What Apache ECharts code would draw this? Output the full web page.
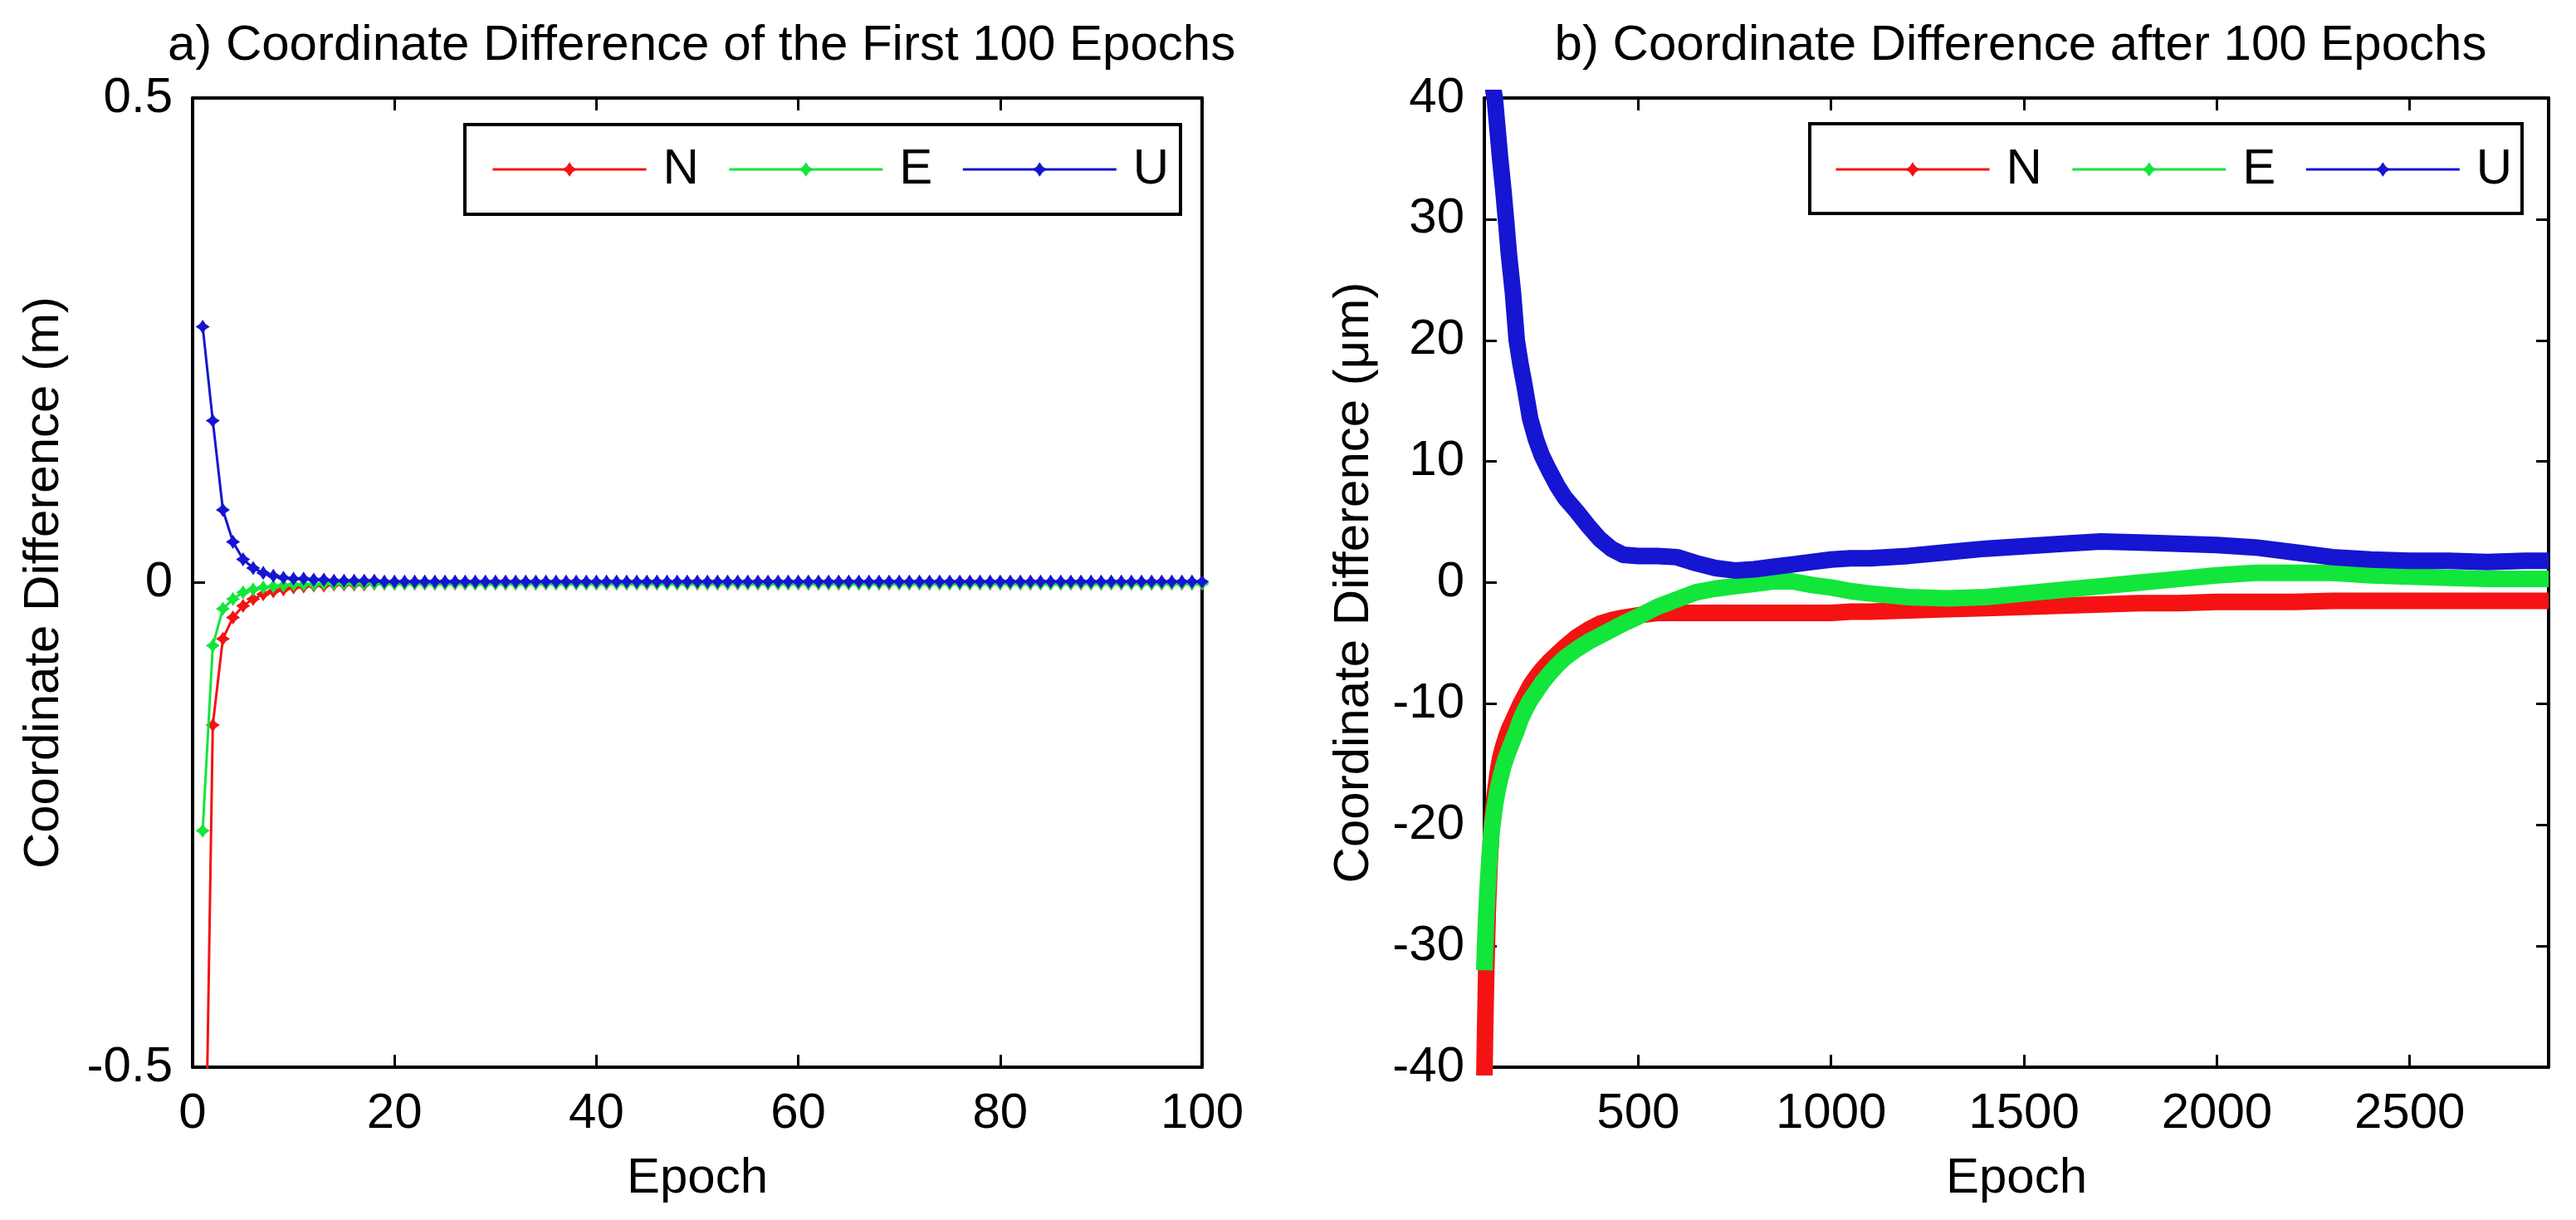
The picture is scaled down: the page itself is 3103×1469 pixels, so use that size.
<!DOCTYPE html>
<html>
<head>
<meta charset="utf-8">
<title>Coordinate Difference</title>
<script src="https://cdn.jsdelivr.net/npm/echarts@6/dist/echarts.min.js"></script>
<style>
  html, body { margin: 0; padding: 0; background: #fff; }
  #main { width: 3103px; height: 1469px; }
</style>
</head>
<body>
<div id="main"></div>
<script>
// a) first 100 epochs, metres
var epochsA = [
  1, 2, 3, 4, 5, 6, 7, 8, 9, 10,
  11, 12, 13, 14, 15, 16, 17, 18, 19, 20,
  21, 22, 23, 24, 25, 26, 27, 28, 29, 30,
  31, 32, 33, 34, 35, 36, 37, 38, 39, 40,
  41, 42, 43, 44, 45, 46, 47, 48, 49, 50,
  51, 52, 53, 54, 55, 56, 57, 58, 59, 60,
  61, 62, 63, 64, 65, 66, 67, 68, 69, 70,
  71, 72, 73, 74, 75, 76, 77, 78, 79, 80,
  81, 82, 83, 84, 85, 86, 87, 88, 89, 90,
  91, 92, 93, 94, 95, 96, 97, 98, 99, 100
];
var nA = [
  -0.80, -0.147, -0.058, -0.036, -0.024, -0.017, -0.012, -0.009, -0.007, -0.005,
  -0.004, -0.003, -0.003, -0.002, -0.002, -0.002, -0.002, -0.001, -0.001, -0.001,
  -0.001, -0.001, -0.001, -0.001, -0.001, -0.001, -0.001, -0.001, -0.001, -0.001,
  -0.001, -0.001, -0.001, -0.001, -0.001, -0.001, -0.001, -0.001, -0.001, -0.001,
  -0.001, -0.001, -0.001, -0.001, -0.001, -0.001, -0.001, -0.001, -0.001, -0.001,
  -0.001, -0.001, -0.001, -0.001, -0.001, -0.001, -0.001, -0.001, -0.001, -0.001,
  -0.001, -0.001, -0.001, -0.001, -0.001, -0.001, -0.001, -0.001, -0.001, -0.001,
  -0.001, -0.001, -0.001, -0.001, -0.001, -0.001, -0.001, -0.001, -0.001, -0.001,
  -0.001, -0.001, -0.001, -0.001, -0.001, -0.001, -0.001, -0.001, -0.001, -0.001,
  -0.001, -0.001, -0.001, -0.001, -0.001, -0.001, -0.001, -0.001, -0.001, -0.001
];
var eA = [
  -0.256, -0.065, -0.027, -0.017, -0.010, -0.007, -0.005, -0.004, -0.003, -0.002,
  -0.002, -0.002, -0.001, -0.001, -0.001, -0.001, -0.001, -0.001, -0.001, -0.001,
  -0.001, -0.001, -0.001, -0.001, -0.001, -0.001, -0.001, -0.001, -0.001, -0.001,
  -0.001, -0.001, -0.001, -0.001, -0.001, -0.001, -0.001, -0.001, -0.001, -0.001,
  -0.001, -0.001, -0.001, -0.001, -0.001, -0.001, -0.001, -0.001, -0.001, -0.001,
  -0.001, -0.001, -0.001, -0.001, -0.001, -0.001, -0.001, -0.001, -0.001, -0.001,
  -0.001, -0.001, -0.001, -0.001, -0.001, -0.001, -0.001, -0.001, -0.001, -0.001,
  -0.001, -0.001, -0.001, -0.001, -0.001, -0.001, -0.001, -0.001, -0.001, -0.001,
  -0.001, -0.001, -0.001, -0.001, -0.001, -0.001, -0.001, -0.001, -0.001, -0.001,
  -0.001, -0.001, -0.001, -0.001, -0.001, -0.001, -0.001, -0.001, -0.001, -0.001
];
var uA = [
  0.264, 0.167, 0.075, 0.042, 0.024, 0.015, 0.010, 0.007, 0.005, 0.004,
  0.004, 0.003, 0.003, 0.002, 0.002, 0.002, 0.002, 0.002, 0.001, 0.001,
  0.001, 0.001, 0.001, 0.001, 0.001, 0.001, 0.001, 0.001, 0.001, 0.001,
  0.001, 0.001, 0.001, 0.001, 0.001, 0.001, 0.001, 0.001, 0.001, 0.001,
  0.001, 0.001, 0.001, 0.001, 0.001, 0.001, 0.001, 0.001, 0.001, 0.001,
  0.001, 0.001, 0.001, 0.001, 0.001, 0.001, 0.001, 0.001, 0.001, 0.001,
  0.001, 0.001, 0.001, 0.001, 0.001, 0.001, 0.001, 0.001, 0.001, 0.001,
  0.001, 0.001, 0.001, 0.001, 0.001, 0.001, 0.001, 0.001, 0.001, 0.001,
  0.001, 0.001, 0.001, 0.001, 0.001, 0.001, 0.001, 0.001, 0.001, 0.001,
  0.001, 0.001, 0.001, 0.001, 0.001, 0.001, 0.001, 0.001, 0.001, 0.001
];

// b) after 100 epochs, micrometres
var epochsB = [
  101, 103, 106, 110, 115, 120, 128, 135, 142, 150, 157, 165,
  175, 185, 195, 205, 220, 235, 250, 270, 290, 310, 340, 370,
  400, 430, 460, 500, 550, 600, 650, 700, 750, 800, 850, 900,
  950, 1000, 1050, 1100, 1200, 1300, 1400, 1500, 1600, 1700, 1800, 1900,
  2000, 2100, 2200, 2300, 2400, 2500, 2600, 2700, 2800, 2860
];
var nB = [
  -41, -37, -32, -27, -23, -20, -17.5, -15.8, -14.5, -13.5, -12.8, -12.1,
  -11.4, -10.7, -10.0, -9.4, -8.5, -7.8, -7.2, -6.5, -5.9, -5.3, -4.5, -3.9,
  -3.4, -3.1, -2.9, -2.7, -2.5, -2.5, -2.5, -2.5, -2.5, -2.5, -2.5, -2.5,
  -2.5, -2.5, -2.4, -2.4, -2.3, -2.2, -2.1, -2.0, -1.9, -1.8, -1.7, -1.7,
  -1.6, -1.6, -1.6, -1.5, -1.5, -1.5, -1.5, -1.5, -1.5, -1.5
];
var eB = [
  -32, -30, -27.5, -25, -22.5, -20.5, -18.5, -17.2, -16.2, -15.2, -14.5, -13.8,
  -13.0, -12.2, -11.3, -10.6, -9.7, -9.0, -8.3, -7.5, -6.8, -6.2, -5.5, -4.9,
  -4.4, -3.9, -3.4, -2.8, -2.0, -1.4, -0.8, -0.5, -0.3, -0.1, 0.1, 0.1,
  -0.2, -0.4, -0.7, -0.9, -1.2, -1.3, -1.2, -0.9, -0.6, -0.3, 0.0, 0.3,
  0.6, 0.8, 0.8, 0.8, 0.6, 0.5, 0.4, 0.3, 0.3, 0.3
];
var uB = [
  50, 48, 46, 44, 42.5, 41.5, 40, 37.5, 35, 32.5, 30, 27,
  24, 20, 18, 16.3, 13.5, 11.8, 10.5, 9.2, 8.0, 7.0, 5.9, 4.7,
  3.6, 2.8, 2.3, 2.2, 2.2, 2.1, 1.6, 1.2, 1.0, 1.1, 1.3, 1.5,
  1.7, 1.9, 2.0, 2.0, 2.2, 2.5, 2.8, 3.0, 3.2, 3.4, 3.3, 3.2,
  3.1, 2.9, 2.5, 2.1, 1.9, 1.8, 1.8, 1.7, 1.8, 1.8
];
var ticksB = [500, 1000, 1500, 2000, 2500];

var names = ['N', 'E', 'U'];
var colors = ['#f51212', '#12e63a', '#1515d2'];
var font = 'Liberation Sans';
var star = 'path://M0,-10 L4,-4 L10,0 L4,4 L0,10 L-4,4 L-10,0 L-4,-4 Z';

function pairs(xs, ys) {
  return xs.map(function (x, i) { return [x, ys[i]]; });
}

function boxAxis(extra) {
  var base = {
    type: 'value',
    splitLine: { show: false },
    axisLine: { show: true, onZero: false, lineStyle: { color: '#000', width: 4 } },
    axisTick: { show: true, inside: true, length: 15, lineStyle: { color: '#000', width: 3 } },
    axisLabel: { show: true, color: '#000', fontSize: 60, fontFamily: font },
    nameTextStyle: { color: '#000', fontSize: 60, fontFamily: font }
  };
  return echarts.util.merge(base, extra, true);
}

var myChart = echarts.init(document.getElementById('main'));

var series = [];
[nA, eA, uA].forEach(function (vals, i) {
  series.push({
    name: names[i], type: 'line', xAxisIndex: 0, yAxisIndex: 0,
    data: pairs(epochsA, vals),
    symbol: star, symbolSize: 17,
    lineStyle: { width: 3, color: colors[i] },
    itemStyle: { color: colors[i] },
    z: 2 + i
  });
});
[nB, eB, uB].forEach(function (vals, i) {
  series.push({
    name: names[i], type: 'line', xAxisIndex: 2, yAxisIndex: 2,
    data: pairs(epochsB, vals),
    symbol: star, showSymbol: false,
    lineStyle: { width: 20, color: colors[i], join: 'round' },
    itemStyle: { color: colors[i] },
    z: 2 + i
  });
});

function legendAt(left) {
  return {
    left: left, top: 174, orient: 'horizontal', padding: 0,
    itemWidth: 185, itemHeight: 22, itemGap: 35,
    selectedMode: false, z: 10,
    data: names,
    lineStyle: { width: 3 },
    textStyle: { color: '#000', fontSize: 60, fontFamily: font, lineHeight: 60, padding: [0, 0, 0, 15] }
  };
}

var option = {
  backgroundColor: '#fff',
  animation: false,
  textStyle: { fontFamily: font },
  title: [
    { text: 'a) Coordinate Difference of the First 100 Epochs', left: 840, top: 20, textAlign: 'center',
      textStyle: { color: '#000', fontSize: 60, fontWeight: 'normal', fontFamily: font } },
    { text: 'b) Coordinate Difference after 100 Epochs', left: 2429, top: 20, textAlign: 'center',
      textStyle: { color: '#000', fontSize: 60, fontWeight: 'normal', fontFamily: font } }
  ],
  grid: [
    { left: 232, top: 118, width: 1216, height: 1167 },
    { left: 1788, top: 118, width: 1282, height: 1167 }
  ],
  xAxis: [
    boxAxis({ gridIndex: 0, position: 'bottom', min: 0, max: 100, interval: 20,
      axisLabel: { margin: 26 }, name: 'Epoch', nameLocation: 'middle', nameGap: 104 }),
    boxAxis({ gridIndex: 0, position: 'top', min: 0, max: 100, interval: 20,
      axisLabel: { show: false } }),
    boxAxis({ gridIndex: 1, position: 'bottom', min: 101, max: 2860,
      axisTick: { customValues: ticksB },
      axisLabel: { margin: 26, customValues: ticksB, formatter: function (v) { return String(v); } },
      name: 'Epoch', nameLocation: 'middle', nameGap: 104 }),
    boxAxis({ gridIndex: 1, position: 'top', min: 101, max: 2860,
      axisTick: { customValues: ticksB }, axisLabel: { show: false } })
  ],
  yAxis: [
    boxAxis({ gridIndex: 0, position: 'left', min: -0.5, max: 0.5, interval: 0.5,
      axisLabel: { margin: 24 }, name: 'Coordinate Difference (m)', nameLocation: 'middle', nameGap: 149, nameRotate: 90 }),
    boxAxis({ gridIndex: 0, position: 'right', min: -0.5, max: 0.5, interval: 0.5,
      axisLabel: { show: false } }),
    boxAxis({ gridIndex: 1, position: 'left', min: -40, max: 40, interval: 10,
      axisLabel: { margin: 24 }, name: 'Coordinate Difference (\u03bcm)', nameLocation: 'middle', nameGap: 127, nameRotate: 90 }),
    boxAxis({ gridIndex: 1, position: 'right', min: -40, max: 40, interval: 10,
      axisLabel: { show: false } })
  ],
  legend: [legendAt(592), legendAt(2210)],
  graphic: [
    { type: 'rect', z: 5, shape: { x: 560, y: 150, width: 862, height: 108 },
      style: { fill: '#fff', stroke: '#000', lineWidth: 4 } },
    { type: 'rect', z: 5, shape: { x: 2180, y: 149, width: 858, height: 108 },
      style: { fill: '#fff', stroke: '#000', lineWidth: 4 } }
  ],
  series: series
};

myChart.setOption(option);
</script>
</body>
</html>
